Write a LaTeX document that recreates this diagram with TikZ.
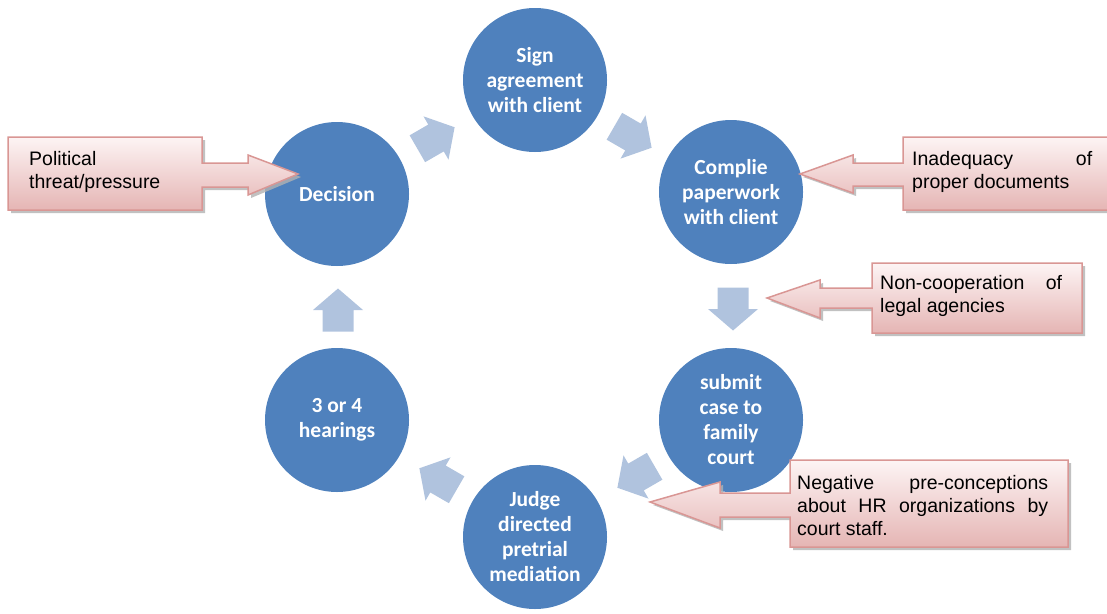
\documentclass[tikz,border=0pt]{standalone}
\usepackage{fontspec}
\setmainfont{Liberation Sans}
\newfontfamily\circfont{Carlito}
\usetikzlibrary{shadows}
\definecolor{circblue}{HTML}{4F81BD}
\definecolor{arrowblue}{HTML}{B0C3DE}
\definecolor{calborder}{HTML}{D99694}
\definecolor{caltop}{HTML}{FDF4F4}
\definecolor{calbot}{HTML}{E5B5B4}
\begin{document}
\begin{tikzpicture}[x=1pt,y=-1pt,
  stage/.style={circle, fill=circblue, minimum size=144pt, inner sep=0pt, text=white,
    font=\circfont\bfseries\fontsize{21.5}{25}\selectfont, align=center},
  callout/.style={draw=calborder, line width=1.5pt, top color=caltop, bottom color=calbot,
    drop shadow={shadow xshift=3pt, shadow yshift=-3pt, fill=black!30, opacity=0.8}},
  note/.style={font=\fontsize{19.5}{23}\selectfont, align=justify, inner sep=0pt, anchor=west},
  flowarrow/.pic={\fill[arrowblue] (-21.5,-15.5) -- (0,-15.5) -- (0,-25) -- (21.5,0) -- (0,25) -- (0,15.5) -- (-21.5,15.5) -- cycle;}
]
\useasboundingbox (0,0) rectangle (1107,613);

% stages
\node[stage] (sign) at (535,80) {Sign\\agreement\\with client};
\node[stage] (compile) at (731,192) {Complie\\paperwork\\with client};
\node[stage] (submit) at (731,420) {submit\\case to\\family\\court};
\node[stage] (judge) at (535,537) {Judge\\directed\\pretrial\\mediation};
\node[stage] (hearings) at (337,420) {3 or 4\\hearings};
\node[stage] (decision) at (337,194) {Decision};

% flow arrows
\pic[rotate=30] (a1) at (436,138) {flowarrow};
\pic[rotate=-30] (a2) at (633,137) {flowarrow};
\pic[rotate=-90] (a3) at (733,309) {flowarrow};
\pic[rotate=210] (a4) at (636,477) {flowarrow};
\pic[rotate=150] (a5) at (438,479) {flowarrow};
\pic[rotate=90] (a6) at (338,310) {flowarrow};

% callouts
\path[callout] (8,137) -- (202,137) -- (202,163) -- (248,163) -- (248,155) -- (298,174)
  -- (248,195) -- (248,187) -- (202,187) -- (202,210) -- (8,210) -- cycle;
\node[note, text width=165pt] (political) at (29,172) {Political\\threat/pressure};

\path[callout] (1112,137) -- (903,137) -- (903,163) -- (853,163) -- (853,155) -- (800,174)
  -- (853,193) -- (853,186) -- (903,186) -- (903,210) -- (1112,210) -- cycle;
\node[note, text width=180pt] (inadequacy) at (912,172) {Inadequacy of\linebreak proper documents};

\path[callout] (1082,263) -- (872,263) -- (872,288) -- (820,288) -- (820,280) -- (767,298)
  -- (820,318) -- (820,308) -- (872,308) -- (872,333) -- (1082,333) -- cycle;
\node[note, text width=182pt] (noncoop) at (880,296) {Non-cooperation of\linebreak legal agencies};

\path[callout] (1068,460) -- (790,460) -- (790,493) -- (720,493) -- (720,482) -- (650,502)
  -- (720,528) -- (720,517) -- (790,517) -- (790,547) -- (1068,547) -- cycle;
\node[note, text width=251pt] (negative) at (797,506) {Negative pre-conceptions\linebreak about HR organizations by\linebreak court staff.};
\end{tikzpicture}
\end{document}
